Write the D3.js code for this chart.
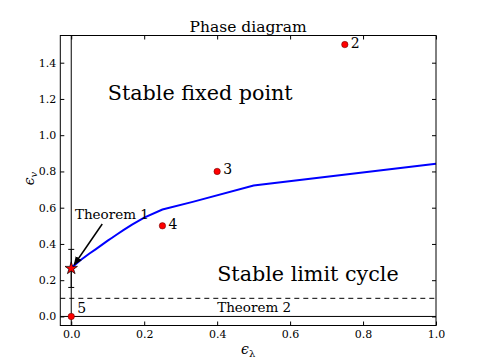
<!DOCTYPE html>
<html>
<head>
<meta charset="utf-8">
<script src="https://cdn.jsdelivr.net/npm/d3@7"></script>
<style>
  body { margin: 0; background: #fff; }
  text { font-family: "DejaVu Serif", serif; fill: #000; }
</style>
</head>
<body>
<div id="chart"></div>
<script>
// boundary curve between the two regimes
var curveX = [0, 0.025, 0.05, 0.0667, 0.1, 0.111, 0.125, 0.1429, 0.1667, 0.2, 0.25, 0.333, 0.5, 1.0];
var curveY = [0.268, 0.31, 0.347, 0.37, 0.418, 0.433, 0.452, 0.476, 0.506, 0.545, 0.59, 0.632, 0.722, 0.843];

// numbered points
var pointX = [0.75, 0.4, 0.25, 0];
var pointY = [1.5, 0.8, 0.5, 0];
var pointLabels = ["2", "3", "4", "5"];

// theorem 1 estimate with error bar
var starX = 0, starY = 0.265, starErr = 0.105;
var dashedY = 0.1;

var xTicks = [0.0, 0.2, 0.4, 0.6, 0.8, 1.0];
var yTicks = [0.0, 0.2, 0.4, 0.6, 0.8, 1.0, 1.2, 1.4];

var margin = {top: 35.5, right: 49, bottom: 37.5, left: 60.3},
    width = 485 - margin.left - margin.right,
    height = 363 - margin.top - margin.bottom;

var x = d3.scaleLinear().domain([-0.03, 1.0]).range([0, width]);
var y = d3.scaleLinear().domain([-0.05, 1.55]).range([height, 0]);

var svg = d3.select("#chart").append("svg")
    .attr("width", 485)
    .attr("height", 363)
  .append("g")
    .attr("transform", "translate(" + margin.left + "," + margin.top + ")");

// reference lines
svg.append("line")
    .attr("x1", x(0)).attr("x2", x(0))
    .attr("y1", 0).attr("y2", height)
    .attr("stroke", "#000").attr("stroke-width", 1);
svg.append("line")
    .attr("x1", 0).attr("x2", width)
    .attr("y1", y(0)).attr("y2", y(0))
    .attr("stroke", "#000").attr("stroke-width", 1);
svg.append("line")
    .attr("x1", 0).attr("x2", width)
    .attr("y1", y(dashedY)).attr("y2", y(dashedY))
    .attr("stroke", "#000").attr("stroke-width", 1)
    .attr("stroke-dasharray", "5,4");

// error bar
svg.append("line")
    .attr("x1", x(starX)).attr("x2", x(starX))
    .attr("y1", y(starY - starErr)).attr("y2", y(starY + starErr))
    .attr("stroke", "#000");
[starY - starErr, starY + starErr].forEach(function(v) {
  svg.append("line")
      .attr("x1", x(starX) - 3).attr("x2", x(starX) + 3)
      .attr("y1", y(v)).attr("y2", y(v))
      .attr("stroke", "#000");
});

// the curve
var line = d3.line()
    .x(function(d, i) { return x(curveX[i]); })
    .y(function(d, i) { return y(curveY[i]); });
svg.append("path")
    .datum(curveY)
    .attr("d", line)
    .attr("fill", "none")
    .attr("stroke", "#0000ff")
    .attr("stroke-width", 2);

// points
svg.selectAll(".pt")
    .data(pointX)
  .enter().append("circle")
    .attr("class", "pt")
    .attr("cx", function(d) { return x(d); })
    .attr("cy", function(d, i) { return y(pointY[i]); })
    .attr("r", 3.2)
    .attr("fill", "#ff0000")
    .attr("stroke", "#550000")
    .attr("stroke-width", 0.5);

svg.selectAll(".ptlabel")
    .data(pointLabels)
  .enter().append("text")
    .attr("class", "ptlabel")
    .attr("x", function(d, i) { return x(pointX[i]) + 6; })
    .attr("y", function(d, i) { return y(pointY[i]) + (i == 3 ? -3 : 3); })
    .style("font-size", "14px")
    .text(function(d) { return d; });

// star
svg.append("path")
    .attr("d", d3.symbol().type(d3.symbolStar).size(48))
    .attr("transform", "translate(" + x(starX) + "," + y(starY) + ")")
    .attr("fill", "#ff0000")
    .attr("stroke", "#000")
    .attr("stroke-width", 0.7);

// annotations
svg.append("defs").append("marker")
    .attr("id", "arrow")
    .attr("viewBox", "0 0 10 10")
    .attr("refX", 9).attr("refY", 5)
    .attr("markerWidth", 6).attr("markerHeight", 6)
    .attr("orient", "auto")
  .append("path")
    .attr("d", "M0,1 L10,5 L0,9 z")
    .attr("fill", "#000");

svg.append("line")
    .attr("x1", x(0.085)).attr("y1", y(0.51))
    .attr("x2", x(0.008)).attr("y2", y(0.285))
    .attr("stroke", "#000").attr("stroke-width", 1.5)
    .attr("marker-end", "url(#arrow)");

svg.append("text")
    .attr("x", x(0.01)).attr("y", y(0.54))
    .style("font-size", "13.5px")
    .text("Theorem 1");
svg.append("text")
    .attr("x", x(0.4)).attr("y", y(0.024))
    .style("font-size", "13.5px")
    .text("Theorem 2");
svg.append("text")
    .attr("x", x(0.1)).attr("y", y(1.195))
    .style("font-size", "20.7px")
    .text("Stable fixed point");
svg.append("text")
    .attr("x", x(0.4)).attr("y", y(0.196))
    .style("font-size", "20.7px")
    .text("Stable limit cycle");

// axes, ticks inward on all sides
function styleAxis(g) {
  g.select(".domain").remove();
  g.selectAll(".tick line").attr("stroke", "#000");
  g.selectAll(".tick text").style("font-family", "DejaVu Serif").style("font-size", "11px").attr("fill", "#222");
}
svg.append("g")
    .attr("transform", "translate(0," + height + ")")
    .call(d3.axisBottom(x).tickValues(xTicks).tickFormat(d3.format(".1f")).tickSizeInner(-4).tickPadding(5))
    .call(styleAxis);
svg.append("g")
    .call(d3.axisTop(x).tickValues(xTicks).tickSizeInner(-4).tickFormat(""))
    .call(styleAxis);
svg.append("g")
    .call(d3.axisLeft(y).tickValues(yTicks).tickFormat(d3.format(".1f")).tickSizeInner(-4).tickPadding(4))
    .call(styleAxis);
svg.append("g")
    .attr("transform", "translate(" + width + ",0)")
    .call(d3.axisRight(y).tickValues(yTicks).tickSizeInner(-4).tickFormat(""))
    .call(styleAxis);

svg.append("rect")
    .attr("width", width).attr("height", height)
    .attr("fill", "none").attr("stroke", "#000").attr("stroke-width", 1);

// title and axis labels
svg.append("text")
    .attr("x", width / 2).attr("y", -4)
    .attr("text-anchor", "middle")
    .style("font-size", "15.5px")
    .text("Phase diagram");

var xl = svg.append("text")
    .attr("x", width / 2).attr("y", height + 28)
    .attr("text-anchor", "middle")
    .style("font-size", "14px");
xl.append("tspan").style("font-style", "italic").text("ϵ");
xl.append("tspan").attr("dy", 3).style("font-size", "10px").text("λ");

var yl = svg.append("text")
    .attr("transform", "translate(-26," + (height / 2 - 2) + ") rotate(-90)")
    .attr("text-anchor", "middle")
    .style("font-size", "14px");
yl.append("tspan").style("font-style", "italic").text("ϵ");
yl.append("tspan").attr("dy", 3).style("font-size", "10px").style("font-style", "italic").text("v");
</script>
</body>
</html>
